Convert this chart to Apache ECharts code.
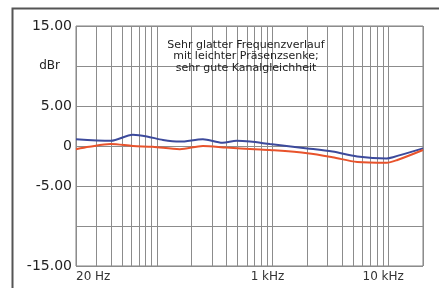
<!DOCTYPE html>
<html><head><meta charset="utf-8">
<script src="https://cdn.jsdelivr.net/npm/echarts@6/dist/echarts.min.js"></script>
<style>html,body{margin:0;padding:0;background:#fff}#c{width:439px;height:288px}</style>
</head><body><div id="c"></div>
<script>
// frequency (Hz), level (dBr)
const blueFreq = [20, 40, 62, 82, 113, 158, 250, 370, 490, 640, 950, 2000, 3300, 5400, 9700, 11000, 20000];
const blueDb   = [0.85, 0.65, 1.4, 1.2, 0.75, 0.55, 0.85, 0.4, 0.65, 0.55, 0.25, -0.3, -0.7, -1.3, -1.55, -1.4, -0.3];
const redFreq  = [20, 26, 40, 62, 92, 158, 250, 400, 700, 950, 2000, 3300, 5400, 9700, 12000, 20000];
const redDb    = [-0.4, -0.1, 0.25, 0, -0.1, -0.4, 0, -0.2, -0.4, -0.5, -0.9, -1.4, -2.0, -2.1, -1.75, -0.5];
const gridFreqs = [20,30,40,50,60,70,80,90,100,200,300,400,500,600,700,800,900,1000,2000,3000,4000,5000,6000,7000,8000,9000,10000,20000];
const xLabelFreqs = [20, 1000, 10000];
const xLabelTexts = ['20 Hz', '1 kHz', '10 kHz'];
const yLabelMap = {'15':'15.00','10':'{u|dBr}','5':'5.00','0':'0','-5':'-5.00','-10':'','-15':'-15.00'};
const titleLines = ['Sehr glatter Frequenzverlauf', 'mit leichter Präsenzsenke;', 'sehr gute Kanalgleichheit'];

const L = f => Math.log10(f);
const FONT = 'DejaVu Sans';
const chart = echarts.init(document.getElementById('c'), null, {renderer:'canvas'});
chart.setOption({
  animation:false,
  backgroundColor:'#fff',
  graphic:[{type:'rect', left:10, top:6, shape:{width:460, height:300}, style:{fill:'none', stroke:'#555', lineWidth:2}}],
  title:{text:titleLines.join('\n'), left:241, top:34, textAlign:'center',
    textStyle:{fontFamily:FONT, fontSize:11, fontWeight:'normal', color:'#222', lineHeight:11.5}},
  grid:{left:76, right:16, top:26, bottom:22, show:true, borderColor:'#808080', borderWidth:1},
  xAxis:{type:'value', min:L(20), max:L(20000),
    axisLine:{show:false},
    axisTick:{show:false, customValues:gridFreqs.map(L)},
    splitLine:{show:true, lineStyle:{color:'#8c8c8c', width:1}},
    axisLabel:{customValues:xLabelFreqs.map(L), margin:5, alignMinLabel:'left', padding:[0,10,0,0],
      formatter:v=>{const i=xLabelFreqs.findIndex(f=>Math.abs(L(f)-v)<1e-6);return i>=0?xLabelTexts[i]:'';},
      fontFamily:FONT, fontSize:12, color:'#333'}},
  yAxis:{type:'value', min:-15, max:15, interval:5,
    axisLine:{show:false}, axisTick:{show:false},
    splitLine:{show:true, lineStyle:{color:'#8c8c8c', width:1}},
    axisLabel:{formatter:v=>yLabelMap[String(v)] ?? '', margin:4,
      fontFamily:FONT, fontSize:14, color:'#222',
      rich:{u:{fontFamily:FONT, fontSize:12, color:'#222', padding:[0,12,0,0]}}}},
  series:[
    {type:'line', data:blueFreq.map((f,i)=>[L(f), blueDb[i]]), smooth:0.3, symbol:'none',
      lineStyle:{color:'#3c4a9c', width:2}},
    {type:'line', data:redFreq.map((f,i)=>[L(f), redDb[i]]), smooth:0.3, symbol:'none',
      lineStyle:{color:'#e8532c', width:2}}
  ]
});
</script></body></html>
